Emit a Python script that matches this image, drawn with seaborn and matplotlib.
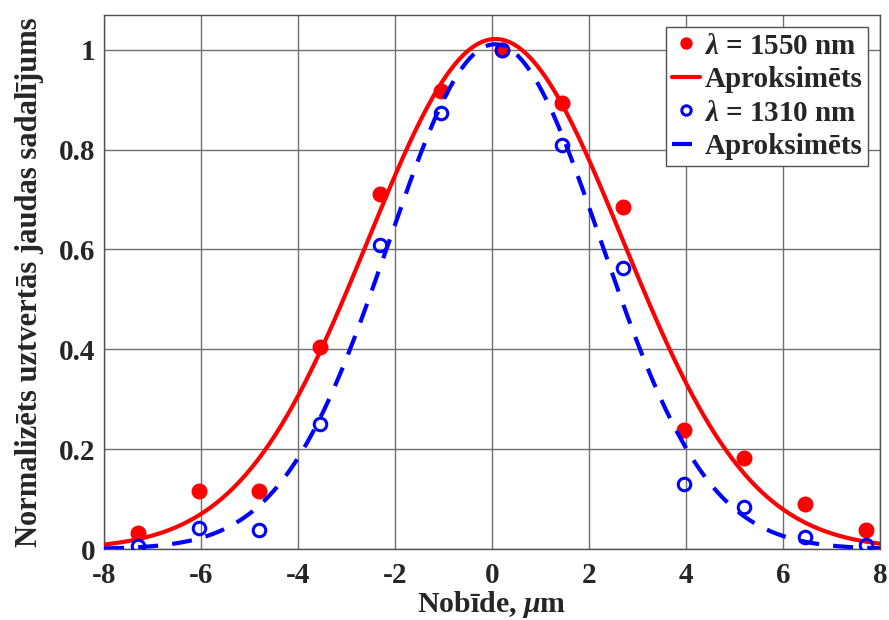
import numpy as np
import pandas as pd
import matplotlib
matplotlib.use("Agg")
import matplotlib.pyplot as plt
import seaborn as sns

# measured points (shift in um, normalised received power)
shift_um = [-7.3, -6.05, -4.8, -3.55, -2.3, -1.05, 0.2, 1.45, 2.7, 3.95, 5.2, 6.45, 7.7]
power_1550 = [0.033, 0.117, 0.116, 0.405, 0.711, 0.918, 1.0, 0.894, 0.685, 0.238, 0.183, 0.090, 0.039]
power_1310 = [0.007, 0.042, 0.038, 0.250, 0.610, 0.874, 1.0, 0.810, 0.563, 0.130, 0.085, 0.025, 0.009]

x_ticks = [-8, -6, -4, -2, 0, 2, 4, 6, 8]
y_ticks = [0, 0.2, 0.4, 0.6, 0.8, 1]
y_tick_labels = ["0", "0.2", "0.4", "0.6", "0.8", "1"]


def gauss_fit(x, y):
    """Least-squares Gaussian fit a*exp(-(x-mu)^2/(2 s^2))."""
    x = np.asarray(x, float)
    y = np.asarray(y, float)
    c2, c1, c0 = np.polyfit(x, np.log(y), 2, w=y)
    s2 = -1.0 / (2 * c2)
    mu = c1 * s2
    a = np.exp(c0 + mu ** 2 / (2 * s2))
    p = np.array([a, mu, np.sqrt(s2)])
    for _ in range(60):
        a, mu, s = p
        g = np.exp(-(x - mu) ** 2 / (2 * s ** 2))
        r = y - a * g
        J = np.column_stack([g, a * g * (x - mu) / s ** 2,
                             a * g * (x - mu) ** 2 / s ** 3])
        p = p + np.linalg.lstsq(J, r, rcond=None)[0]
    return p


def gauss(x, p):
    a, mu, s = p
    return a * np.exp(-(x - mu) ** 2 / (2 * s ** 2))


sns.set_style("white")
plt.rcParams["font.family"] = ["Liberation Serif", "DejaVu Serif"]
plt.rcParams["font.weight"] = "bold"
plt.rcParams["mathtext.fontset"] = "custom"
plt.rcParams["mathtext.rm"] = "Liberation Serif:bold"
plt.rcParams["mathtext.it"] = "Liberation Serif:italic:bold"
plt.rcParams["mathtext.bf"] = "Liberation Serif:bold"

fs = 21
x_fine = np.linspace(-8, 8, 400)
fit_1550 = pd.DataFrame({"x": x_fine, "y": gauss(x_fine, gauss_fit(shift_um, power_1550))})
fit_1310 = pd.DataFrame({"x": x_fine, "y": gauss(x_fine, gauss_fit(shift_um, power_1310))})
pts = pd.DataFrame({"x": shift_um, "p1550": power_1550, "p1310": power_1310})

fig, ax = plt.subplots(figsize=(8.89, 6.2), dpi=100)
fig.subplots_adjust(left=0.117, right=0.99, bottom=0.1145, top=0.976)

ax.plot(pts["x"], pts["p1550"], "o", color="#ff0000", ms=10.5, mec="#ff0000",
        label=r"$\lambda$ = 1550 nm", zorder=3)
sns.lineplot(data=fit_1550, x="x", y="y", ax=ax, color="#ff0000", lw=3,
             label="Aproksimēts", zorder=4)
ax.plot(pts["x"], pts["p1310"], "o", color="#0000ff", ms=9, mfc="none", mew=2.2,
        label=r"$\lambda$ = 1310 nm", zorder=5)
sns.lineplot(data=fit_1310, x="x", y="y", ax=ax, color="#0000ff", lw=3,
             label="Aproksimēts", zorder=6)
ax.lines[-1].set_dashes((4.8, 3.4))

ax.set_xlim(-8, 8)
ax.set_ylim(0, 1.07)
ax.set_xticks(x_ticks)
ax.set_xticklabels([str(t) for t in x_ticks])
ax.set_yticks(y_ticks)
ax.set_yticklabels(y_tick_labels)
ax.tick_params(axis="x", length=0, pad=9, labelsize=fs, labelcolor="#262626")
ax.tick_params(axis="y", length=0, pad=6, labelsize=fs, labelcolor="#262626")
for lab in ax.get_xticklabels() + ax.get_yticklabels():
    lab.set_fontweight("bold")

ax.grid(True, color="#707070", lw=1)
for sp in ax.spines.values():
    sp.set_visible(True)
    sp.set_color("#505050")
    sp.set_linewidth(1)

ax.set_xlabel(r"Nobīde, $\mu$m", fontsize=21.5, fontweight="bold", labelpad=0)
ax.set_ylabel("Normalizēts uztvertās jaudas sadalījums", fontsize=22,
              fontweight="bold", labelpad=11)

leg = ax.legend(loc="upper right", fontsize=fs, frameon=True, fancybox=False,
                framealpha=1, edgecolor="#505050", borderpad=0.2,
                labelspacing=0.22, handlelength=0.96, handletextpad=0.15,
                markerscale=0.75, borderaxespad=0.41)
leg.get_frame().set_linewidth(1)
for t in leg.get_texts():
    t.set_fontweight("bold")

fig.savefig("out.png", dpi=100)
